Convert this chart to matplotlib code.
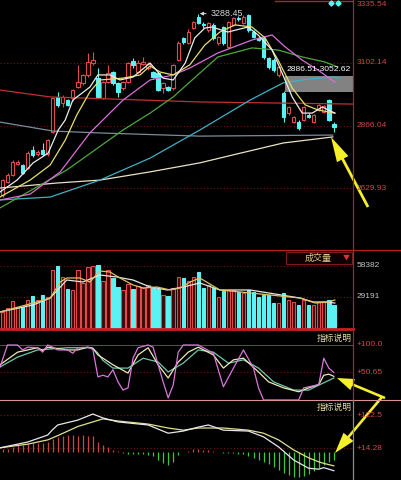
import matplotlib
matplotlib.use('Agg')
import matplotlib.pyplot as plt
from matplotlib.patches import Rectangle, FancyArrow
from matplotlib import transforms
import numpy as np

W, H = 401, 480

# ---------------- data ----------------
opens = [2604, 2653, 2679, 2722, 2717, 2706, 2774, 2758, 2774, 2758,
         2842, 2974, 2951, 2962, 2970, 3011, 3027, 3057, 3102, 3045,
         2970, 3030, 3068, 3027, 3008, 3030, 3110, 3068, 3098, 3083,
         3068, 3064, 3008, 3011, 3008, 3113, 3195, 3178, 3234, 3276,
         3250, 3227, 3246, 3178, 3238, 3163, 3246, 3272, 3253, 3283,
         3219, 3197, 3197, 3121, 3113, 3057, 2989, 2913, 2879, 2879,
         2887, 2906, 2879, 2925, 2917, 2962, 2870]
closes = [2660, 2679, 2728, 2728, 2687, 2762, 2755, 2766, 2757, 2811,
          2970, 2944, 2974, 2944, 3000, 3030, 3057, 3106, 3113, 2974,
          3030, 3064, 3027, 2993, 3030, 3102, 3095, 3102, 3106, 3098,
          3049, 3000, 3027, 3000, 3095, 3178, 3180, 3219, 3257, 3253,
          3244, 3253, 3197, 3200, 3178, 3257, 3272, 3268, 3276, 3227,
          3200, 3189, 3125, 3087, 3076, 3087, 2898, 2936, 2898, 2857,
          2936, 2900, 2906, 2944, 2940, 2887, 2862]
highs = [2665, 2685, 2735, 2735, 2722, 2768, 2790, 2775, 2800, 2815,
         2975, 2993, 2981, 2968, 3004, 3095, 3062, 3140, 3144, 3083,
         3035, 3095, 3072, 3030, 3035, 3106, 3121, 3113, 3125, 3106,
         3072, 3068, 3030, 3015, 3100, 3185, 3200, 3232, 3260, 3288.45,
         3257, 3257, 3253, 3205, 3242, 3262, 3276, 3280, 3283, 3286,
         3225, 3200, 3200, 3125, 3120, 3090, 2995, 2940, 2902, 2887,
         2940, 2915, 2910, 2948, 2945, 2966, 2880]
lows = [2598, 2648, 2675, 2718, 2683, 2700, 2748, 2750, 2752, 2750,
        2838, 2936, 2936, 2940, 2960, 3008, 3020, 3050, 3095, 2970,
        2965, 3025, 3020, 2974, 3000, 3025, 3083, 3064, 3095, 3076,
        3045, 2995, 2989, 2995, 3000, 3110, 3172, 3172, 3230, 3249,
        3235, 3220, 3190, 3170, 3170, 3155, 3240, 3260, 3249, 3220,
        3195, 3185, 3118, 3080, 3068, 3050, 2879, 2906, 2875, 2849,
        2883, 2895, 2875, 2920, 2912, 2883, 2840]
volumes = [15100, 18800, 25400, 19800, 19800, 26400, 30100, 26400, 31100, 29200,
           54600, 58400, 48000, 36700, 35800, 54600, 42400, 57400, 58400, 59300,
           44300, 54600, 47100, 38600, 35800, 41400, 36700, 39500, 37700, 40500,
           38600, 36700, 31100, 30100, 37700, 48000, 47100, 44300, 48000, 52700,
           37700, 40500, 37700, 29200, 35800, 35800, 35800, 33900, 32900, 35800,
           33900, 29200, 31100, 31100, 23500, 23500, 32900, 26400, 24500, 21700,
           26400, 21700, 21700, 24500, 24500, 26400, 21700]

# moving-average lines of the price panel (candle index, price)
ma5_idx = [-0.5, 2.9, 6.1, 9.1, 11.1, 12.5, 14.0, 17.4, 19.0, 21.4, 23.4, 26.0, 29.4, 32.0,
           34.0, 36.4, 38.3, 40.3, 41.7, 44.9, 48.9, 50.9, 53.7, 55.7, 57.7, 59.7, 61.7, 63.7, 66.2]
ma5_val = [2615, 2660, 2725, 2762, 2849, 2887, 2962, 3011, 3057, 3057, 3038, 3049, 3102, 3045,
           3038, 3102, 3197, 3234, 3238, 3219, 3238, 3208, 3151, 3064, 2974, 2913, 2913, 2936, 2913]
ma10_idx = [-0.5, 5.5, 9.5, 12.5, 14.8, 17.4, 19.4, 24.0, 27.4, 29.4, 31.4, 34.0, 37.3, 40.3,
            43.3, 46.3, 49.7, 52.3, 54.9, 57.7, 60.3, 62.8, 66.2]
ma10_val = [2596, 2660, 2717, 2811, 2906, 2993, 3038, 3045, 3057, 3091, 3068, 3057, 3095, 3170,
            3219, 3246, 3238, 3197, 3113, 3008, 2944, 2925, 2913]
ma20_idx = [-0.5, 5.5, 11.5, 17.4, 20.0, 24.0, 29.4, 34.0, 37.3, 42.9, 49.7, 53.7, 56.3, 59.7, 62.8, 66.2]
ma20_val = [2585, 2607, 2691, 2838, 2887, 2962, 3038, 3057, 3083, 3140, 3189, 3208, 3163, 3113, 3076, 3030]
ma30_idx = [-0.5, 12.8, 24.0, 29.4, 34.0, 39.3, 42.9, 49.7, 54.9, 59.7, 64.2, 66.8]
ma30_val = [2555, 2698, 2849, 2913, 2974, 3064, 3125, 3159, 3151, 3125, 3106, 3087]
ma60_idx = [-0.5, 9.5, 19.4, 29.4, 39.3, 49.3, 55.9, 61.3, 65.8, 67.2]
ma60_val = [2585, 2596, 2660, 2743, 2849, 2962, 3027, 3042, 3049, 3045]
ma120_idx = [-0.5, 10.9, 19.4, 29.4, 39.3, 45.9, 55.9, 65.8]
ma120_val = [2630, 2649, 2660, 2691, 2725, 2755, 2800, 2823]
gray_idx = [-0.5, 10.1, 19.4, 39.3, 65.8]
gray_val = [2879, 2845, 2838, 2826, 2830]
red_idx = [-0.5, 9.5, 39.3, 69.8]
red_val = [3000, 2974, 2955, 2947]

# volume MA lines
vma_w_idx = [-0.5, 6.1, 9.5, 12.8, 16.0, 19.4, 22.8, 26.0, 29.4, 32.8, 36.0, 39.3, 43.3, 49.3, 59.3, 61.9, 64.6, 66.2]
vma_w_val = [15100, 21700, 28200, 45200, 43300, 49900, 48000, 45200, 38600, 35800, 38600, 42400,
             35800, 35800, 28200, 24500, 24500, 23500]
vma_y_idx = [-0.5, 6.1, 9.5, 11.5, 12.8, 15.4, 17.4, 19.4, 21.4, 23.4, 26.0, 28.0, 30.8, 33.4, 35.4,
             37.4, 39.3, 43.3, 49.3, 59.3, 62.3, 64.8, 66.2]
vma_y_val = [15100, 23500, 28200, 43300, 47100, 47100, 43300, 53700, 52700, 47100, 40500, 37700,
             38600, 35800, 37700, 43300, 47100, 35800, 33000, 28200, 23500, 24500, 26400]

# KDJ
k_idx = [-0.5, 3, 7, 8, 9, 13, 15, 17, 18, 19, 22, 25, 27, 29, 31, 33, 35, 37, 39, 42, 44, 46, 48,
         51, 53, 56, 59, 61, 63, 64, 65, 66]
k_val = [64, 87, 95, 90, 96, 91, 91, 96, 94, 82, 64, 49, 82, 95, 64, 40, 69, 87, 96, 82, 58, 73, 76,
         51, 33, 22, 15, 22, 28, 45, 47, 43]
d_idx = [-0.5, 3, 7, 13, 17, 18, 19, 20, 22, 25, 28, 31, 33, 36, 39, 42, 45, 48, 51, 54, 58, 61, 63, 66]
d_val = [60, 78, 91, 95, 95, 94, 85, 72, 58, 58, 76, 69, 51, 67, 91, 87, 67, 73, 58, 33, 18, 18, 27, 40]
j_idx = [-0.5, 1, 3, 4, 5, 7, 8, 9, 10, 11, 13, 14, 15, 17, 18, 19, 20, 21, 22, 23, 24, 25, 26, 27,
         29, 30, 31, 32, 33, 34, 35, 36, 39, 42, 44, 46, 48, 50, 51, 52, 59, 60, 63, 64, 65, 66]
j_val = [60, 100, 100, 91, 96, 95, 87, 100, 96, 91, 91, 85, 95, 96, 92, 42, 45, 42, 55, 33, 18, 22, 76, 95,
         100, 96, 64, 33, 4, 27, 87, 100, 100, 85, 24, 58, 91, 58, 22, 0, 0, 22, 28, 76, 58, 50]

# MACD
dif_idx = [-0.5, 5, 9, 10, 11, 15, 18, 20, 23, 29, 33, 36, 39, 41, 44, 49, 52, 55, 58, 61, 63, 64, 66]
dif_val = [15, 34, 57, 75, 90, 106, 126, 113, 100, 90, 63, 70, 83, 90, 73, 70, 51, 18, -25, -52, -55, -50, -60]
dea_idx = [-0.5, 5, 9, 11, 15, 18, 20, 23, 29, 33, 36, 39, 44, 49, 52, 55, 58, 61, 63, 64, 66]
dea_val = [15, 27, 41, 55, 85, 100, 110, 103, 93, 80, 73, 80, 80, 73, 63, 41, 8, -18, -31, -36, -44]
macd_hist = [10, 12, 18, 28, 25, 28, 30, 30, 32, 35,
             45, 52, 55, 58, 58, 55, 58, 55, 55, 35,
             25, 18, 8, 3, -3, -4, -6, -6, -5, -8,
             -12, -25, -35, -40, -30, -10, 2, 6, 10, 12,
             8, 8, 6, 2, -2, -3, -3, -4, -5, -12,
             -18, -25, -30, -38, -48, -58, -68, -75, -80, -82,
             -78, -72, -62, -52, -42, -32, -25]

price_ticks = [3335.54, 3102.14, 2866.04, 2629.93]
vol_ticks = [58382, 29191]
kdj_ticks = [100.0, 50.65]
macd_ticks = [122.5, 14.28]
high_label = 3288.45
high_idx = 39
box_low, box_high = 2993, 3052.62
box_text = '2886.51-3052.62'

# ---------------- styling ----------------
RED = '#e04a4a'
CYAN = '#5af2f2'
GRID = '#701414'
LBL = '#d04848'
FONT = ['Liberation Sans', 'DejaVu Sans']
CJK = ['Noto Sans CJK SC', 'DejaVu Sans']

fig = plt.figure(figsize=(W / 100, H / 100), dpi=100, facecolor='black')


def pax(x0, y0, x1, y1):
    a = fig.add_axes([x0 / W, 1 - y1 / H, (x1 - x0) / W, (y1 - y0) / H])
    a.set_facecolor('none')
    a.axis('off')
    return a


XL = (-0.5, 69.82)
n = len(opens)
idx = np.arange(n)
o = np.array(opens, float); c = np.array(closes, float)
hi = np.array(highs, float); lo = np.array(lows, float)
up = c >= o
cols = [RED if u else CYAN for u in up]
bw = 0.68

# ---- main price panel ----
ax = pax(0, 0, 353, 250)
ax.set_xlim(XL); ax.set_ylim(2396, 3340)
for t in price_ticks[1:]:
    ax.axhline(t, color=GRID, lw=0.8, ls=(0, (1, 2)), zorder=0)
ax.add_patch(Rectangle((56.3, box_low), XL[1] - 56.3, box_high - box_low,
                       facecolor='#9a9a9a', edgecolor='none', alpha=0.85, zorder=1))
ax.text(56.6, 3079, box_text, color='white', fontsize=6.1, family=FONT, va='center', zorder=6)

top = np.maximum(o, c); bot = np.minimum(o, c)
hgt = np.maximum(top - bot, 2.0)
ax.vlines(idx, top, hi, colors=cols, lw=0.8, zorder=3)
ax.vlines(idx, lo, bot, colors=cols, lw=0.8, zorder=3)
ax.bar(idx, hgt, bottom=bot, width=bw, color=['black' if u else CYAN for u in up],
       edgecolor=cols, lw=0.8, zorder=3)

for xs, ys, col in [(gray_idx, gray_val, '#7c8c9c'), (red_idx, red_val, '#c03030'),
                    (ma120_idx, ma120_val, '#e8e2c4'), (ma60_idx, ma60_val, '#3fb0c4'),
                    (ma30_idx, ma30_val, '#4ca83c'), (ma20_idx, ma20_val, '#d870d8'),
                    (ma10_idx, ma10_val, '#e6de6a'), (ma5_idx, ma5_val, '#ececec')]:
    ax.plot(xs, ys, color=col, lw=0.9, zorder=4)

ax.annotate(f'{high_label:.2f}', xy=(high_idx + 0.3, high_label), xytext=(41.4, high_label),
            color='#d8d8d8', fontsize=6.4, family=FONT, va='center', ha='left', zorder=6,
            arrowprops=dict(arrowstyle='-|>', color='#d8d8d8', lw=0.7, mutation_scale=5,
                            shrinkA=1, shrinkB=0))

# ---- volume panel ----
av = pax(0, 250, 353, 333)
av.set_xlim(XL); av.set_ylim(-4708, 73445)
for t in vol_ticks:
    av.axhline(t, color=GRID, lw=0.8, ls=(0, (1, 2)), zorder=0)
av.bar(idx, volumes, width=bw, color=['#3a0a0a' if u else CYAN for u in up],
       edgecolor=[RED if u else CYAN for u in up], lw=0.8, zorder=3)
av.plot(vma_w_idx, vma_w_val, color='#e6e6e6', lw=0.9, zorder=4)
av.plot(vma_y_idx, vma_y_val, color='#e0c064', lw=0.9, zorder=4)

# ---- KDJ panel ----
ak = pax(0, 333, 353, 401)
ak.set_xlim(XL); ak.set_ylim(-1.82, 121.8)
ak.axhline(kdj_ticks[0], color='#8a3a4a', lw=0.7, zorder=0)
ak.axhline(kdj_ticks[1], color=GRID, lw=0.8, ls=(0, (1, 2)), zorder=0)
ak.plot(d_idx, d_val, color='#6ec8ac', lw=0.9, zorder=3)
ak.plot(k_idx, k_val, color='#eeeab8', lw=0.9, zorder=4)
ak.plot(j_idx, j_val, color='#d878d8', lw=0.9, zorder=5)

# ---- MACD panel ----
am = pax(0, 400, 353, 480)
am.set_xlim(XL); am.set_ylim(-90.5, 171.9)
for t in macd_ticks:
    am.axhline(t, color=GRID, lw=0.8, ls=(0, (1, 2)), zorder=0)
hv = np.array(macd_hist, float)
am.vlines(idx, 0, hv, colors=['#c84848' if v >= 0 else '#3cc83c' for v in hv], lw=0.9, zorder=3)
am.plot(dea_idx, dea_val, color='#e2e090', lw=0.9, zorder=4)
am.plot(dif_idx, dif_val, color='#e8e8e8', lw=0.9, zorder=5)

# ---- overlay (frame, labels, arrows) ----
ov = fig.add_axes([0, 0, 1, 1])
ov.set_xlim(0, W); ov.set_ylim(H, 0)
ov.axis('off'); ov.set_facecolor('none'); ov.set_zorder(10)

ov.plot([0, W], [250, 250], color='#b42222', lw=0.9)
ov.plot([0, 353], [328.6, 328.6], color='#c82020', lw=2.0)
ov.plot([0, W], [400.3, 400.3], color='#d89494', lw=0.8)
ov.plot([353, 353], [0, 400], color='#a82424', lw=0.9)
ov.plot([353, 353], [400, 480], color='#8c8c8c', lw=0.9)
ov.plot([275, 353], [1.2, 1.2], color='#b42222', lw=1.0)
ov.plot([330.5, 337.5], [3, 3], ls='none', marker='D', ms=2.6, color=CYAN)

for a, ticks, colr, kind in [(ax, price_ticks, LBL, 'p'), (av, vol_ticks, '#c4c4c4', 'v'),
                             (ak, kdj_ticks, LBL, 'i'), (am, macd_ticks, LBL, 'i')]:
    tr = transforms.blended_transform_factory(ov.transData, a.transData)
    for k, t in enumerate(ticks):
        if kind == 'p':
            s = f'{t:.2f}'
        elif kind == 'v':
            s = f'{t:d}'
        else:
            s = f'+{t:.1f}' if t >= 100 else f'+{t:.2f}'
        va = 'top' if (kind == 'p' and k == 0) else 'center'
        ov.text(357, t, s, transform=tr, color=colr, fontsize=6.0, family=FONT,
                va=va, ha='left')

# panel title boxes
ov.add_patch(Rectangle((286, 251.5), 66, 12.5, facecolor='#0c0000', edgecolor='#7a1c1c', lw=0.8))
ov.text(318, 258, '成交量', color='#e2c886', fontsize=6.5, family=CJK, va='center', ha='center')
ov.text(346, 258, '▼', color='#e03030', fontsize=5.0, family=CJK, va='center', ha='center')
ov.text(334, 338, '指标说明', color='#e8dca0', fontsize=6.3, family=CJK, va='center', ha='center')
ov.text(334, 407.5, '指标说明', color='#e8dca0', fontsize=6.3, family=CJK, va='center', ha='center')

YEL = '#f6f028'
ov.add_patch(FancyArrow(368, 207, 331 - 368, 137 - 207, width=2.8, head_width=13, head_length=25,
                        length_includes_head=True, color=YEL, lw=0))
ov.add_patch(FancyArrow(385, 398, 337 - 385, 378 - 398, width=2.6, head_width=12, head_length=17,
                        length_includes_head=True, color=YEL, lw=0))
ov.add_patch(FancyArrow(382, 397, 335 - 382, 453 - 397, width=2.6, head_width=13, head_length=21,
                        length_includes_head=True, color=YEL, lw=0))

fig.savefig('out.png', dpi=100, facecolor='black')
